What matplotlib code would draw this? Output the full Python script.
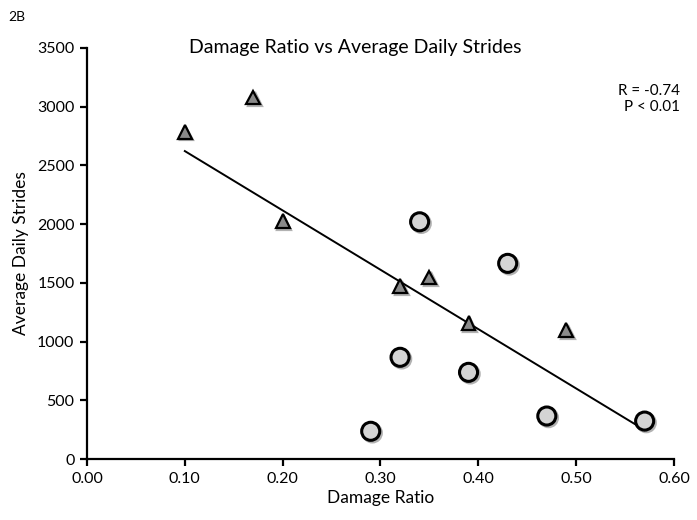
import numpy as np
import matplotlib
matplotlib.use("Agg")
import matplotlib.pyplot as plt
import matplotlib.patheffects as pe
from matplotlib.ticker import FormatStrFormatter

plt.rcParams['font.family'] = ['Lato', 'DejaVu Sans']

# triangles
tri_x = [0.10, 0.17, 0.20, 0.32, 0.35, 0.39, 0.49]
tri_y = [2786, 3078, 2026, 1472, 1546, 1155, 1098]
# circles
circ_x = [0.34, 0.43, 0.32, 0.39, 0.47, 0.29, 0.57]
circ_y = [2020, 1666, 866, 738, 366, 236, 323]

x_ticks = [0.0, 0.1, 0.2, 0.3, 0.4, 0.5, 0.6]
y_ticks = [0, 500, 1000, 1500, 2000, 2500, 3000, 3500]

fig = plt.figure(figsize=(6.97, 5.2), dpi=100)
ax = fig.add_axes([0.1248, 0.1173, 0.8422, 0.7904])

# trend line over all points
all_x = np.array(tri_x + circ_x)
all_y = np.array(tri_y + circ_y)
m, b = np.polyfit(all_x, all_y, 1)
lx = np.array([all_x.min(), all_x.max()])
ax.plot(lx, m * lx + b, color='black', lw=1.4, zorder=2)

shadow = [pe.SimpleLineShadow(offset=(1.2, -1.2), alpha=0.3, shadow_color='black'),
          pe.Normal()]
ax.plot(tri_x, tri_y, ls='none', marker='^', ms=10, mfc='#8a8a8a',
        mec='black', mew=1.6, zorder=3, path_effects=shadow)
ax.plot(circ_x, circ_y, ls='none', marker='o', ms=13, mfc='#d4d4d4',
        mec='black', mew=2.2, zorder=4, path_effects=shadow)

ax.set_xlim(0, 0.6)
ax.set_ylim(0, 3500)
ax.set_xticks(x_ticks)
ax.set_yticks(y_ticks)
ax.xaxis.set_major_formatter(FormatStrFormatter('%.2f'))
for s in ['top', 'right']:
    ax.spines[s].set_visible(False)
for s in ['left', 'bottom']:
    ax.spines[s].set_linewidth(1.6)
ax.tick_params(direction='out', length=5, width=1.6, labelsize=11.5, pad=4)

ax.set_xlabel('Damage Ratio', fontsize=12.5, labelpad=3)
ax.set_ylabel('Average Daily Strides', fontsize=12.5, labelpad=6)

fig.text(355 / 697, 1 - 47 / 520, 'Damage Ratio vs Average Daily Strides',
         ha='center', va='center', fontsize=14)
fig.text(0.012, 1 - 17 / 520, '2B', ha='left', va='center', fontsize=10)
fig.text(680 / 697, 1 - 99 / 520, 'R = -0.74\nP < 0.01', ha='right',
         va='center', multialignment='right', fontsize=11, linespacing=1.2)

fig.savefig('out.png', dpi=100)
